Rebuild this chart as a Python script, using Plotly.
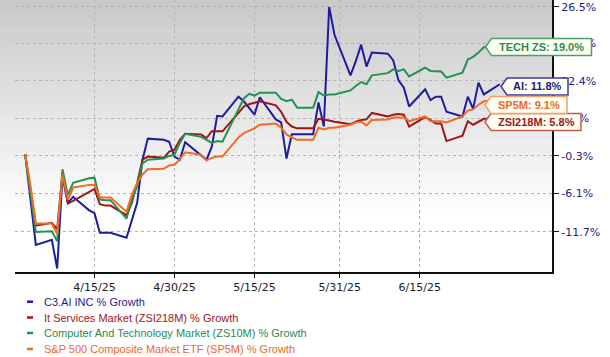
import numpy as np
import pandas as pd
import plotly.graph_objects as go

# ---------------- data ----------------
# weekdays from 4/2/25 to 6/30/25 (market holidays carry the previous value)
dates = pd.bdate_range("2025-04-02", "2025-06-30")

ai_growth = [0, -7.5, -13.5, -12.8, -16.7, -3.5, -7.5, -6.6, -8.6, -9.0,
             -11.8, -11.8, -11.8, -12.5, -9.9, -7.5, -0.9, 2.5, 2.3, 2.0,
             -0.4, -0.9, 1.9, -0.2, -0.9, 1.2, 6.3, 6.2, 9.6, 8.8,
             7.7, 6.5, 9.5, 5.7, 5.2, -0.7, 3.2, 3.2, 3.2, 8.6,
             4.5, 26.5, 21.0, 13.4, 16.0, 19.1, 15.0, 17.6, 17.4, 16.2,
             12.5, 11.2, 7.9, 10.9, 9.0, 9.6, 9.6, 7.0, 6.2, 9.6,
             7.5, 12.1, 10.0, 11.8]

zsi218m_growth = [0, -5.5, -10.8, -10.4, -11.3, -2.9, -7.6, -7.2, -5.9, -5.4,
                  -7.7, -7.9, -7.9, -9.3, -7.5, -4.5, -0.9, -0.4, -0.6, 0.4,
                  0.7, 2.3, 3.3, 3.2, 2.6, 3.7, 3.7, 3.7, 6.8, 7.9,
                  8.3, 8.6, 8.8, 8.1, 7.0, 5.3, 4.5, 4.2, 4.2, 5.8,
                  5.7, 5.5, 5.3, 4.9, 5.3, 5.6, 5.7, 6.8, 6.2, 6.5,
                  6.6, 6.5, 4.5, 6.1, 5.6, 5.0, 5.0, 2.1, 3.0, 5.4,
                  4.8, 5.3, 5.8, 5.8]

zs10m_growth = [0, -6.0, -11.7, -11.6, -13.0, -2.4, -6.3, -4.5, -3.8, -3.7,
                -7.0, -7.1, -7.1, -9.8, -7.0, -5.0, -1.5, -0.9, -0.7, -0.3,
                -0.1, 1.8, 3.3, 2.8, 2.3, 1.8, 2.1, 2.0, 7.4, 9.3,
                10.1, 9.8, 10.3, 10.3, 9.2, 8.8, 9.1, 7.7, 7.7, 10.4,
                9.8, 10.0, 10.0, 10.7, 11.5, 12.2, 11.8, 13.4, 13.8, 14.5,
                14.2, 14.5, 13.2, 14.8, 14.2, 14.1, 14.1, 13.0, 13.9, 16.3,
                16.8, 17.6, 18.6, 19.0]

sp5m_growth = [0, -4.9, -10.5, -10.5, -12.0, -3.2, -7.0, -5.2, -4.8, -4.8,
               -6.7, -6.7, -6.7, -8.8, -6.3, -4.5, -3.2, -2.4, -2.3, -1.8,
               -1.7, -0.8, 0.3, -0.1, -1.0, -0.6, -0.4, -0.4, 2.7, 3.4,
               3.8, 4.2, 4.8, 5.0, 4.3, 3.2, 2.7, 2.3, 2.3, 4.3,
               4.0, 4.3, 4.3, 4.8, 5.2, 5.3, 4.7, 5.6, 5.7, 6.0,
               6.0, 6.0, 5.4, 6.2, 5.4, 5.4, 5.4, 5.2, 6.2, 7.2,
               7.4, 8.2, 8.8, 9.1]

legend_names = ["C3.AI INC % Growth",
                "It Services Market (ZSI218M) % Growth",
                "Computer And Technology Market (ZS10M) % Growth",
                "S&P 500 Composite Market ETF (SP5M) % Growth"]
end_labels = ["AI", "ZSI218M", "TECH ZS", "SP5M"]

y_tick_pct = [26.5, 19.3, 12.4, 5.9, -0.3, -6.1, -11.7]
y_tick_text = ["26.5%", "19.3%", "12.4%", "5.9%", "-0.3%", "-6.1%", "-11.7%"]
x_tick_dates = ["2025-04-15", "2025-04-30", "2025-05-15", "2025-05-31", "2025-06-15"]
x_tick_text = ["4/15/25", "4/30/25", "5/15/25", "5/31/25", "6/15/25"]

# ---------------- styles ----------------
W, H = 610, 357
ML, MR, MT, MB = 15, 58, 0, 85
PW, PH = W - ML - MR, H - MT - MB
Y_RANGE = [-0.0818, 0.1069]          # log10 range of (1 + growth)

series = [ai_growth, zsi218m_growth, zs10m_growth, sp5m_growth]
line_colors = ["#1c1ca3", "#a01616", "#249150", "#f36b24"]
text_colors = ["#1c1c8a", "#a01616", "#2b8a52", "#f0692a"]
border_colors = ["#3a3aa0", "#c05a55", "#4aa06a", "#f4a06a"]
draw_order = [0, 1, 2, 3]

# label boxes: tip x (pixels), total width, vertical shift down (pixels)
box_tip_px = [501, 485, 485.5, 485]
box_width = [67, 96, 106, 82]
box_shift = [2.2, 3.2, 1.8, 5.4]

legend_y_px = [301.7, 317.5, 333.0, 349.0]

fig = go.Figure()

for i in draw_order:
    fig.add_trace(go.Scatter(
        x=dates, y=[1 + v / 100 for v in series[i]],
        mode="lines", line=dict(color=line_colors[i], width=2),
        name=legend_names[i], showlegend=False, hoverinfo="skip"))

shapes = []
# soft gray gradient at the top of the plot area
N = 35
grad_px = 215
for k in range(N):
    g = int(round(200 + (255 - 200) * (k + 0.5) / N))
    y1 = 1 - (k * grad_px / N) / PH
    y0 = 1 - ((k + 1) * grad_px / N) / PH
    shapes.append(dict(type="rect", xref="paper", yref="paper",
                       x0=-ML / PW, x1=1, y0=y0, y1=y1 + 0.002, layer="below",
                       line=dict(width=0), fillcolor=f"rgb({g},{g},{g})"))

annotations = []
for i in range(4):
    val = series[i][-1]
    yp = (np.log10(1 + val / 100) - Y_RANGE[0]) / (Y_RANGE[1] - Y_RANGE[0])
    s = box_shift[i]
    hh = 8.5
    w = box_width[i]
    top, bot = -s + hh, -s - hh
    path = f"M0,{-s} L6,{top} L{w},{top} L{w},{bot} L6,{bot} Z"
    xa = (box_tip_px[i] - ML) / PW
    shapes.append(dict(type="path", xref="paper", yref="paper",
                       xsizemode="pixel", ysizemode="pixel",
                       xanchor=xa, yanchor=yp, path=path,
                       fillcolor="#fffff2",
                       line=dict(color=border_colors[i], width=1.5),
                       layer="above"))
    annotations.append(dict(
        xref="paper", yref="paper", x=xa, y=yp, xanchor="center", yanchor="middle",
        xshift=6 + (w - 6) / 2, yshift=-s, showarrow=False,
        text=f"<b>{end_labels[i]}: {val:.1f}%</b>",
        font=dict(family="Liberation Sans, Arial, sans-serif", size=11,
                  color=text_colors[i])))

# legend (colored dash + colored text)
for i in range(4):
    py = (PH - (legend_y_px[i] - MT)) / PH
    shapes.append(dict(type="line", xref="paper", yref="paper",
                       x0=(27 - ML) / PW, x1=(33 - ML) / PW, y0=py, y1=py,
                       line=dict(color=line_colors[i], width=2.5)))
    annotations.append(dict(
        xref="paper", yref="paper", x=(41.5 - ML) / PW, y=py,
        xanchor="left", yanchor="middle", showarrow=False,
        text=legend_names[i],
        font=dict(family="Liberation Sans, Arial, sans-serif", size=11,
                  color=text_colors[i])))

x_start = pd.Timestamp("2025-04-15") - pd.Timedelta(days=(94.5 - ML) / 5.333)
x_end = pd.Timestamp("2025-04-15") + pd.Timedelta(days=(W - MR - 94.5) / 5.333)

fig.update_layout(
    width=W, height=H,
    margin=dict(l=ML, r=MR, t=MT, b=MB, pad=0),
    paper_bgcolor="white", plot_bgcolor="rgba(0,0,0,0)",
    showlegend=False,
    shapes=shapes, annotations=annotations,
    xaxis=dict(
        type="date", range=[x_start, x_end],
        tickvals=x_tick_dates, ticktext=x_tick_text,
        showgrid=True, gridcolor="#b4b4b4", griddash="3px,3px", gridwidth=1,
        showline=True, linecolor="#111111", linewidth=2,
        ticks="outside", ticklen=4, tickcolor="#111111",
        tickfont=dict(family="DejaVu Sans, Verdana, sans-serif", size=11,
                      color="#222222"),
        zeroline=False, automargin=False, fixedrange=True),
    yaxis=dict(
        type="log", side="right",
        range=Y_RANGE,
        tickvals=[1 + v / 100 for v in y_tick_pct], ticktext=y_tick_text,
        showgrid=True, gridcolor="#b4b4b4", griddash="3px,3px", gridwidth=1,
        showline=True, linecolor="#111111", linewidth=2,
        ticks="outside", ticklen=5, tickcolor="#111111",
        tickfont=dict(family="DejaVu Sans, Verdana, sans-serif", size=11,
                      color="#23237e"),
        zeroline=False, automargin=False, fixedrange=True),
)

fig.write_html("out.html", config={"displayModeBar": False},
               post_script="document.body.style.margin='0';"
                           "document.body.style.overflow='hidden';")
